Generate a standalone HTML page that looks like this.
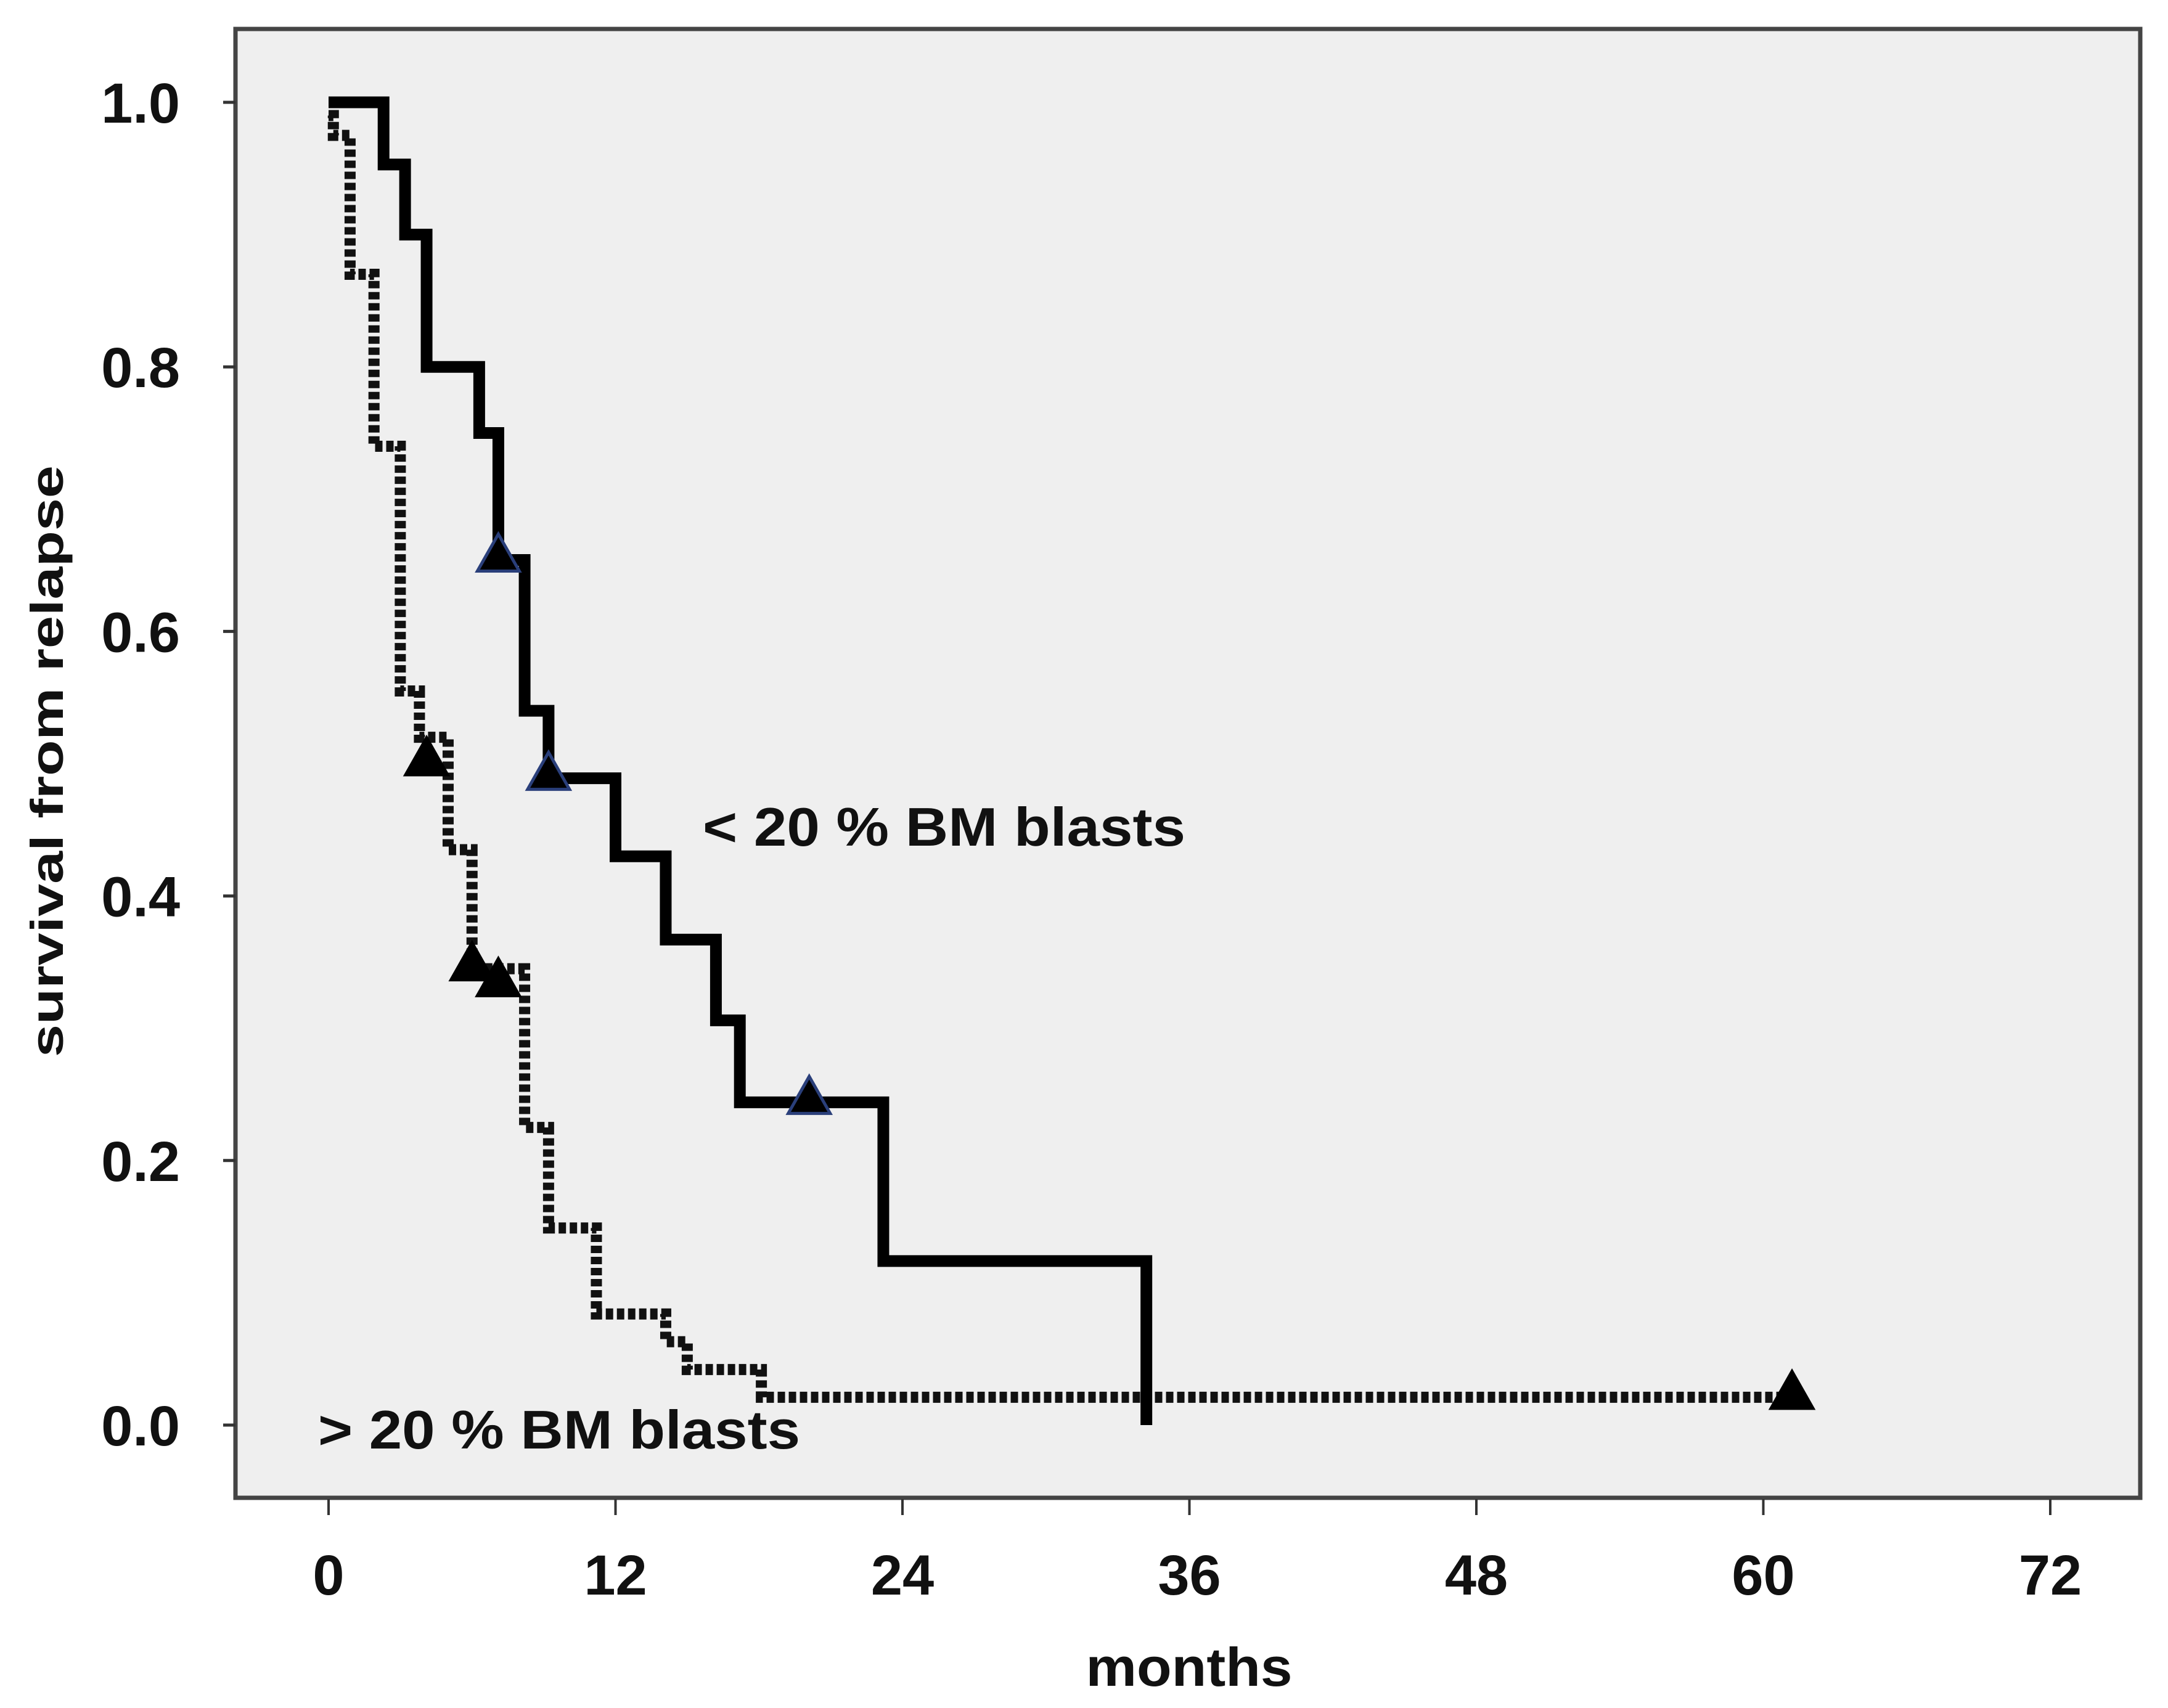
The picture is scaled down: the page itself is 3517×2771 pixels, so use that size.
<!DOCTYPE html>
<html><head><meta charset="utf-8"><style>
html,body{margin:0;padding:0;background:#fff}
svg{display:block}
text{font-family:"Liberation Sans","DejaVu Sans",sans-serif;font-weight:bold;fill:#111}
</style></head><body>
<svg id="chart" width="3517" height="2771" viewBox="0 0 3517 2771" xmlns="http://www.w3.org/2000/svg">
<rect x="382" y="47" width="3090" height="2383" fill="#efefef" stroke="#444" stroke-width="7"/>
<g id="yticks"></g>
<g id="xticks"></g>
<g id="series"></g>
<text x="1140" y="1372" font-size="88" textLength="783" lengthAdjust="spacingAndGlyphs">&lt; 20 % BM blasts</text>
<text x="516" y="2350" font-size="88" textLength="782" lengthAdjust="spacingAndGlyphs">&gt; 20 % BM blasts</text>
<text x="1929" y="2735" font-size="88" text-anchor="middle" textLength="335" lengthAdjust="spacingAndGlyphs">months</text>
<text transform="translate(102,1235) rotate(-90)" font-size="74" text-anchor="middle" textLength="960" lengthAdjust="spacingAndGlyphs">survival from relapse</text>
</svg>
<script>
const yTicks=[0.0,0.2,0.4,0.6,0.8,1.0];
const yTickLabels=["0.0","0.2","0.4","0.6","0.8","1.0"];
const xTicks=[0,12,24,36,48,60,72];
const xTickLabels=["0","12","24","36","48","60","72"];
// <20% BM blasts: step times (months) and survival after step
const lowTimes=[0,2.3,3.2,4.1,6.3,7.1,8.2,9.2,12.0,14.1,16.2,17.2,23.2,34.2];
const lowSurv=[1.0,0.953,0.90,0.80,0.75,0.654,0.54,0.489,0.43,0.367,0.306,0.244,0.124,0.0];
const lowCensorTimes=[7.1,9.2,20.1];
const lowCensorSurv=[0.654,0.489,0.244];
// >20% BM blasts
const highTimes=[0,0.2,0.9,1.9,3.0,3.8,5.0,6.0,8.2,9.2,11.2,14.1,15.0,18.1];
const highSurv=[0.99,0.975,0.87,0.74,0.555,0.52,0.435,0.345,0.225,0.149,0.084,0.063,0.042,0.021];
const highCensorTimes=[4.1,6.0,7.1,61.2];
const highCensorSurv=[0.50,0.345,0.333,0.021];

const NS="http://www.w3.org/2000/svg";
const X=m=>533+m*(3326-533)/72;
const Y=s=>2312-s*(2312-166);
function mk(tag,attrs,parent){const e=document.createElementNS(NS,tag);for(const k in attrs)e.setAttribute(k,attrs[k]);parent.appendChild(e);return e;}
const yg=document.getElementById('yticks'),xg=document.getElementById('xticks'),sg=document.getElementById('series');
yTicks.forEach((v,i)=>{
 const t=mk('line',{x1:362,x2:382,y1:Y(v),y2:Y(v),stroke:'#333','stroke-width':5},yg);
 
 
 const l=mk('text',{x:292,y:Y(v)+33,'font-size':92,'text-anchor':'end'},yg);
 l.textContent=yTickLabels[i];
 
 
});
xTicks.forEach((v,i)=>{
 const t=mk('line',{x1:X(v),x2:X(v),y1:2432,y2:2458,stroke:'#333','stroke-width':4},xg);
 
 
 const l=mk('text',{x:X(v),y:2587,'font-size':92,'text-anchor':'middle'},xg);
 l.textContent=xTickLabels[i];
 
 
});
function stepPath(times,surv,endT){
 let d='M'+X(times[0])+','+Y(surv[0]);
 for(let i=1;i<times.length;i++){d+=' H'+X(times[i])+' V'+Y(surv[i]);}
 if(endT!==undefined)d+=' H'+X(endT);
 return d;
}
const hp=mk('path',{d:stepPath(highTimes,highSurv,61.2),fill:'none',stroke:'#111','stroke-width':18,'stroke-dasharray':'12 6'},sg);


const lp=mk('path',{d:stepPath(lowTimes,lowSurv),fill:'none',stroke:'#000','stroke-width':19,'stroke-linejoin':'miter'},sg);


function tri(t,s,stroke){
 const cx=X(t),cy=Y(s);
 const p=mk('polygon',{points:(cx-34)+','+(cy+18)+' '+(cx+34)+','+(cy+18)+' '+cx+','+(cy-42),fill:'#000',stroke:stroke,'stroke-width':5},sg);
 return p;
}
lowCensorTimes.forEach((t,i)=>{
 const p=tri(t,lowCensorSurv[i],'#2a3f7a');
 
 
});
highCensorTimes.forEach((t,i)=>{
 const p=tri(t,highCensorSurv[i],'#000');
 
 
});
</script>
</body></html>
